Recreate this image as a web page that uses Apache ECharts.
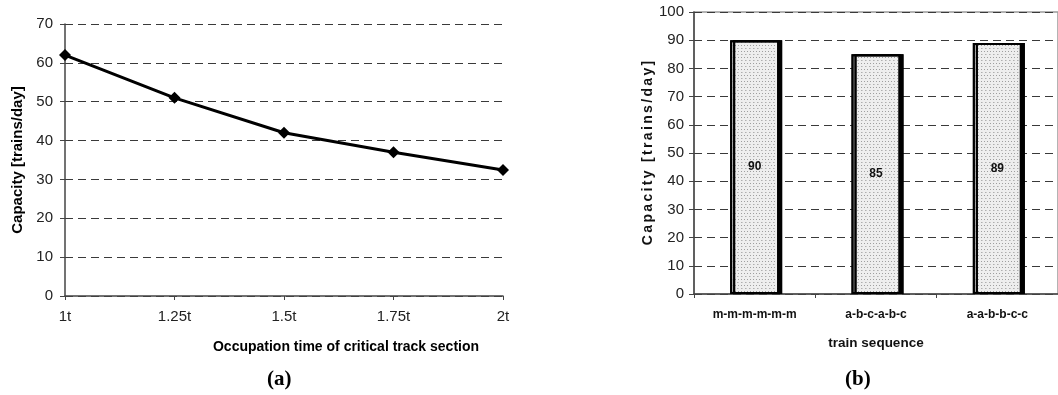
<!DOCTYPE html>
<html>
<head>
<meta charset="utf-8">
<style>
  html, body { margin: 0; padding: 0; background: #fff; }
  #chart { width: 1058px; height: 395px; }
</style>
<script src="https://cdn.jsdelivr.net/npm/echarts@6/dist/echarts.min.js"></script>
</head>
<body>
<div id="chart"></div>
<script>
// Panel (a): capacity versus occupation time of the critical track section
const occupationTimes = ['1t', '1.25t', '1.5t', '1.75t', '2t'];
const capacityByOccupation = [62, 51, 42, 37, 32.4];

// Panel (b): capacity for different train sequences
const trainSequences = ['m-m-m-m-m-m', 'a-b-c-a-b-c', 'a-a-b-b-c-c'];
const capacityBySequence = [90, 85, 89];

const sans = '"Liberation Sans", Arial, sans-serif';
const serif = '"Liberation Serif", "Times New Roman", serif';

const gridDash = { color: '#3a3a3a', width: 1, type: [8, 5] };

// letter-spaced axis title for panel (b)
const spacedTitle = 'Capacity [trains/day]'.split('').join('\u2006');

const chart = echarts.init(document.getElementById('chart'), null, { renderer: 'canvas' });

chart.setOption({
  animation: false,
  backgroundColor: '#ffffff',
  title: [
    { text: '(a)', left: 262, top: 364, textStyle: { fontFamily: serif, fontWeight: 'bold', fontSize: 21, color: '#000' } },
    { text: '(b)', left: 840, top: 364, textStyle: { fontFamily: serif, fontWeight: 'bold', fontSize: 21, color: '#000' } }
  ],
  grid: [
    { left: 65, top: 24, width: 438, height: 272 },
    { left: 694, top: 12, width: 367, height: 282, show: true, borderColor: '#9a9a9a', borderWidth: 1.5 }
  ],
  xAxis: [
    {
      gridIndex: 0,
      type: 'category',
      data: occupationTimes,
      boundaryGap: false,
      axisLine: { lineStyle: { color: '#444', width: 1.5 } },
      axisTick: { show: true, length: 4, lineStyle: { color: '#444' } },
      axisLabel: { fontFamily: sans, fontSize: 15, color: '#222', margin: 13 },
      name: 'Occupation time of critical track section',
      nameLocation: 'middle',
      nameGap: 44,
      nameTextStyle: { fontFamily: sans, fontWeight: 'bold', fontSize: 14, color: '#000', padding: [0, 0, 0, 124] }
    },
    {
      gridIndex: 1,
      type: 'category',
      data: trainSequences,
      axisLine: { lineStyle: { color: '#444', width: 1.5 } },
      axisTick: { show: true, length: 4, lineStyle: { color: '#444' } },
      axisLabel: { fontFamily: sans, fontWeight: 'bold', fontSize: 12, color: '#111', margin: 15 },
      name: 'train sequence',
      nameLocation: 'middle',
      nameGap: 42,
      nameTextStyle: { fontFamily: sans, fontWeight: 'bold', fontSize: 13.5, color: '#111' }
    }
  ],
  yAxis: [
    {
      gridIndex: 0,
      type: 'value',
      min: 0, max: 70, interval: 10,
      axisLine: { show: true, lineStyle: { color: '#444', width: 1.5 } },
      axisTick: { show: true, length: 5, lineStyle: { color: '#444' } },
      axisLabel: { fontFamily: sans, fontSize: 15, color: '#222', margin: 12 },
      splitLine: { show: true, lineStyle: gridDash },
      name: 'Capacity [trains/day]',
      nameLocation: 'middle',
      nameGap: 40,
      nameTextStyle: { fontFamily: sans, fontWeight: 'bold', fontSize: 15, color: '#000' }
    },
    {
      gridIndex: 1,
      type: 'value',
      min: 0, max: 100, interval: 10,
      axisLine: { show: true, lineStyle: { color: '#444', width: 1.5 } },
      axisTick: { show: true, length: 5, lineStyle: { color: '#444' } },
      axisLabel: { fontFamily: sans, fontSize: 15, color: '#222', margin: 10 },
      splitLine: { show: true, lineStyle: gridDash },
      name: spacedTitle,
      nameLocation: 'middle',
      nameGap: 33,
      nameTextStyle: { fontFamily: sans, fontWeight: 'bold', fontSize: 14, color: '#111' }
    }
  ],
  series: [
    {
      type: 'line',
      xAxisIndex: 0,
      yAxisIndex: 0,
      data: capacityByOccupation,
      symbol: 'diamond',
      symbolSize: 12,
      lineStyle: { color: '#000', width: 3 },
      itemStyle: { color: '#000' }
    },
    {
      type: 'bar',
      xAxisIndex: 1,
      yAxisIndex: 1,
      data: capacityBySequence,
      barWidth: 49,
      itemStyle: {
        color: '#eeeeee',
        borderColor: '#000',
        borderWidth: 2,
        shadowColor: '#000',
        shadowOffsetX: 3,
        shadowOffsetY: 0,
        shadowBlur: 0,
        decal: {
          symbol: 'circle',
          symbolSize: 0.8,
          color: 'rgba(110,110,110,0.6)',
          dashArrayX: [[1, 2], [0, 1.5, 1, 0.5]],
          dashArrayY: [1, 1.5],
          rotation: 0
        }
      },
      label: {
        show: true,
        position: 'inside',
        fontFamily: sans,
        fontWeight: 'bold',
        fontSize: 12,
        color: '#111'
      }
    }
  ]
});
</script>
</body>
</html>
